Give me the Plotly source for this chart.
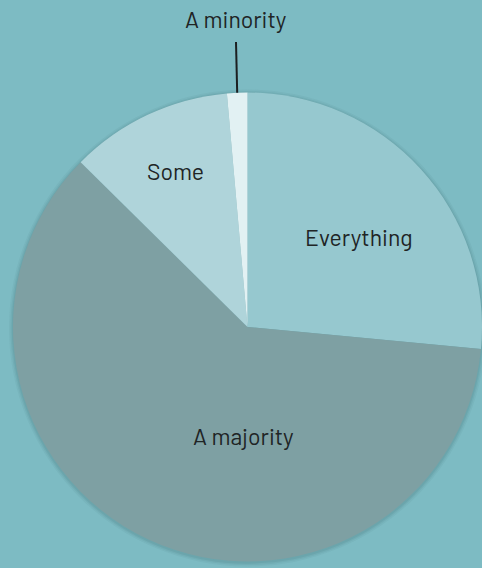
import math
import plotly.graph_objects as go

# Survey answer shares (percent), clockwise from 12 o'clock
labels = ["Everything", "A majority", "Some", "A minority"]
values = [26.5, 60.9, 11.2, 1.4]
colors = ["#96c8cf", "#7ea0a3", "#afd4da", "#e2f1f3"]

W, H = 482, 568
BG = "#7dbbc3"
TEXT = "#202425"
FONT = "Barlow, Roboto, 'DejaVu Sans', sans-serif"

# Pie placement in pixels (top-left origin)
left_px = 13
size_px = W - left_px
cx_px = left_px + size_px / 2
cy_px = 327
r_px = size_px / 2

dom_x = [left_px / W, 1.0]
dom_y = [(H - cy_px - r_px) / H, (H - cy_px + r_px) / H]

fig = go.Figure(
    go.Pie(
        labels=labels,
        values=values,
        sort=False,
        direction="clockwise",
        rotation=0,
        marker=dict(colors=colors, line=dict(width=0)),
        textinfo="none",
        hoverinfo="label+percent",
        showlegend=False,
        domain=dict(x=dom_x, y=dom_y),
    )
)


def px(x):
    return x / W


def py(y):
    return (H - y) / H


# Soft shadow ring behind the pie
shapes = []
for grow, alpha in [(4, 0.05), (2.5, 0.07), (1.2, 0.09)]:
    shapes.append(
        dict(
            type="circle", xref="paper", yref="paper", layer="below",
            x0=px(cx_px - r_px - grow), x1=px(cx_px + r_px + grow),
            y0=py(cy_px + r_px + grow + 1), y1=py(cy_px - r_px - grow + 1),
            fillcolor=f"rgba(40,80,85,{alpha})", line=dict(width=0),
        )
    )

# Leader line to the smallest slice, anchored at its mid-angle on the rim
total = sum(values)
start = sum(values[:3]) / total
mid = (start + values[3] / total / 2) * 2 * math.pi
rim_x = cx_px + r_px * math.sin(mid)
rim_y = cy_px - r_px * math.cos(mid)
shapes.append(
    dict(
        type="line", xref="paper", yref="paper",
        x0=px(236), y0=py(42), x1=px(rim_x), y1=py(rim_y),
        line=dict(color="#1c1f20", width=2),
    )
)

label_pos = {
    "Everything": (359, 237),
    "A majority": (243, 436),
    "Some": (175, 171),
    "A minority": (236, 19),
}
annotations = []
for name in labels:
    x, y = label_pos[name]
    annotations.append(
        dict(
            text=name, x=px(x), y=py(y), xref="paper", yref="paper",
            showarrow=False, xanchor="center", yanchor="middle",
            font=dict(family=FONT, size=23, color=TEXT),
        )
    )

fig.update_layout(
    width=W,
    height=H,
    margin=dict(l=0, r=0, t=0, b=0),
    paper_bgcolor=BG,
    plot_bgcolor=BG,
    shapes=shapes,
    annotations=annotations,
)

fig.write_html("out.html")
